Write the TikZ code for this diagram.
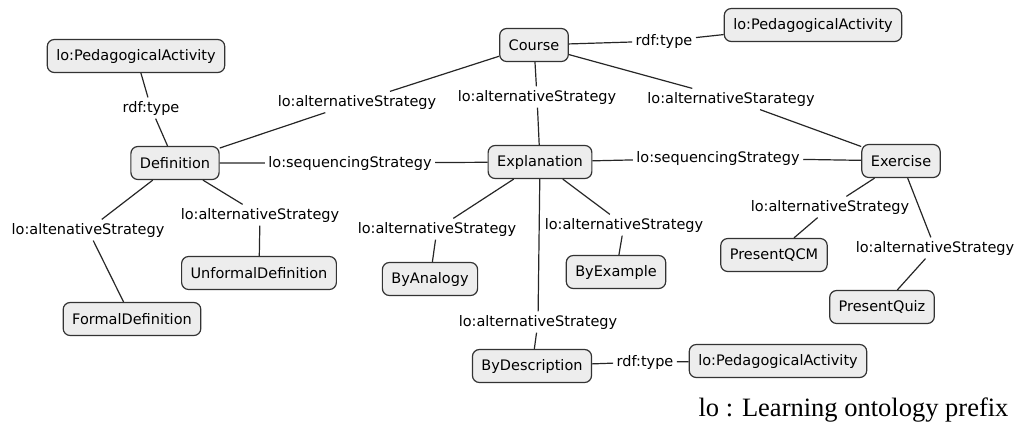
\documentclass[tikz,border=0pt]{standalone}
\usepackage{fontspec}
\setmainfont{DejaVu Sans}
\newfontfamily\notefont{Liberation Serif}
\tikzset{
	concept/.style={draw=black!80,fill=black!7,rounded corners=7pt,line width=1.2pt,minimum height=33pt,inner xsep=9pt,font=\fontsize{14.5}{16}\selectfont},
	rel/.style={inner sep=3pt,font=\fontsize{14.5}{16}\selectfont},
}
\begin{document}
\begin{tikzpicture}[x=1pt,y=-1pt,line width=1.2pt,draw=black!85]
		\useasboundingbox (0,0) rectangle (1034,432);
		\draw (534,45) node[concept](course){Course} (813,25) node[concept](pa-1){lo:PedagogicalActivity};
		\draw (136,56) node[concept](pa-2){lo:PedagogicalActivity} (778,361) node[concept](pa-3){lo:PedagogicalActivity};
		\draw (175,163) node[concept](def){Definition} (540,162) node[concept](expl){Explanation} (901,161) node[concept](exer){Exercise};
		\draw (259,273) node[concept](unf){UnformalDefinition} (132,319) node[concept](form){FormalDefinition};
		\draw (430,279) node[concept](ana){ByAnalogy} (616,272) node[concept](exa){ByExample} (532,366) node[concept](desc){ByDescription};
		\draw (774,255) node[concept](qcm){PresentQCM} (882,307) node[concept](quiz){PresentQuiz};
		\draw (664,41) node[rel](r-1){rdf:type} (151,108) node[rel](r-2){rdf:type} (645,362) node[rel](r-3){rdf:type};
		\draw (357,102) node[rel](a-1){lo:alternativeStrategy} (537,97) node[rel](a-2){lo:alternativeStrategy} (731,99) node[rel](a-3){lo:alternativeStarategy};
		\draw (350,163) node[rel](s-1){lo:sequencingStrategy} (718,158) node[rel](s-2){lo:sequencingStrategy};
		\draw (88,230) node[rel](a-4){lo:altenativeStrategy} (260,215) node[rel](a-5){lo:alternativeStrategy};
		\draw (437,229) node[rel](a-6){lo:alternativeStrategy} (624,225) node[rel](a-7){lo:alternativeStrategy} (538,322) node[rel](a-8){lo:alternativeStrategy};
		\draw (830,207) node[rel](a-9){lo:alternativeStrategy} (935,248) node[rel](a-10){lo:alternativeStrategy};
		\draw (course) -- (r-1) -- (pa-1) (pa-2) -- (r-2) -- (def) (desc) -- (r-3) -- (pa-3);
		\draw (def) -- (a-1) -- (course) (course) -- (a-2) -- (expl) (course) -- (a-3) -- (exer);
		\draw (def) -- (s-1) -- (expl) (expl) -- (s-2) -- (exer);
		\draw (def) -- (a-4) -- (form) (def) -- (a-5) -- (unf);
		\draw (expl) -- (a-6) -- (ana) (expl) -- (a-7) -- (exa) (expl) -- (a-8) -- (desc);
		\draw (exer) -- (a-9) -- (qcm) (exer) -- (a-10) -- (quiz);
		\draw (698,410) node[anchor=west,inner sep=0pt,font=\notefont\fontsize{26.5}{28}\selectfont](note){lo : Learning ontology prefix};
	\end{tikzpicture}
\end{document}
